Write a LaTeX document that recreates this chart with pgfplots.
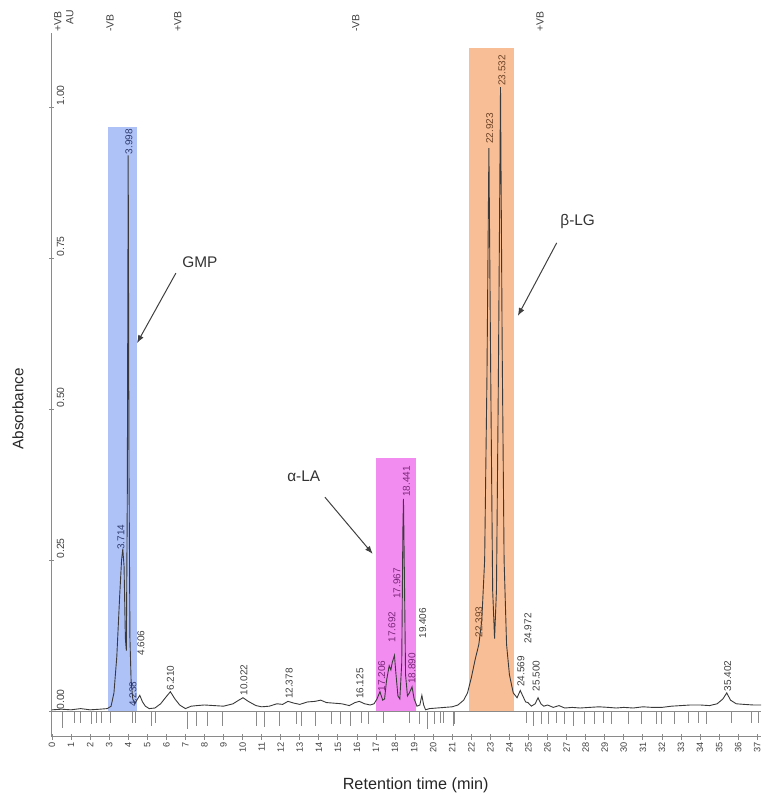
\documentclass[border=0pt]{standalone}
\usepackage{pgfplots}
\pgfplotsset{compat=1.18}
\usepackage{fontspec}
\setmainfont{Liberation Sans}
\usetikzlibrary{arrows.meta}
\definecolor{tracec}{HTML}{3A3A3A}
\definecolor{axisc}{HTML}{8A8A8A}
\definecolor{txtc}{HTML}{404040}
\definecolor{blueh}{HTML}{AFC2F7}
\definecolor{magh}{HTML}{F28CF0}
\definecolor{orah}{HTML}{F8BE96}
\definecolor{bluet}{HTML}{2E3C70}
\definecolor{magt}{HTML}{7A267A}
\definecolor{orat}{HTML}{6E4426}
\newcommand{\pkfont}{\fontsize{5}{6}\selectfont}
\newcommand{\pk}[4]{\node[rotate=90,anchor=west,inner sep=0.4pt,font=\pkfont,text=#4] at (axis cs:#1,#2) {#3};}
\begin{document}
\begin{tikzpicture}
\begin{axis}[
  scale only axis, width=354.5pt, height=352pt,
  xmin=0, xmax=37.2, ymin=-0.043, ymax=1.1225,
  axis x line*=bottom, axis y line*=left,
  axis line style={draw=axisc, line width=0.5pt, -},
  clip=false,
  xtick={0,1,...,37},
  ytick={0,0.25,0.5,0.75,1},
  yticklabels={0.00,0.25,0.50,0.75,1.00},
  tick style={draw=axisc, line width=0.4pt},
  major tick length=2.5pt,
  tick align=center,
  /pgf/number format/assume math mode=true,
  xticklabel style={rotate=90, anchor=east, inner sep=1pt, font=\fontsize{4.6}{5}\selectfont, text=txtc},
  yticklabel style={rotate=90, anchor=north west, inner sep=0.5pt, yshift=-3pt, font=\fontsize{5.2}{6}\selectfont, text=txtc},
  xlabel={Retention time (min)},
  ylabel={Absorbance},
  xlabel style={at={(axis description cs:0.513,0)}, anchor=center, yshift=-24pt, font=\fontsize{8.1}{9}\selectfont, text=black!85},
  ylabel style={at={(axis description cs:-0.048,0.466)}, anchor=center, font=\fontsize{7.6}{9}\selectfont, text=black!85},
]
% highlight regions
\addplot[draw=none, fill=blueh, forget plot] coordinates {(2.94,0.967) (4.46,0.967)} \closedcycle;
\addplot[draw=none, fill=magh, forget plot] coordinates {(16.99,0.419) (19.09,0.419)} \closedcycle;
\addplot[draw=none, fill=orah, forget plot] coordinates {(21.87,1.098) (24.23,1.098)} \closedcycle;
% integration baseline
\addplot[draw=axisc, line width=0.4pt, forget plot] coordinates {(0,0) (37.2,0)};
% event marks
\addplot[ycomb, draw=axisc, line width=0.4pt, forget plot] coordinates {
(0.56,-0.028) (1.2,-0.02) (1.47,-0.02) (2.08,-0.022) (2.34,-0.02) (2.57,-0.02) (3.09,-0.02)
(4.21,-0.02) (4.35,-0.02) (5.23,-0.025) (5.45,-0.02) (7.09,-0.03) (7.59,-0.025) (8.14,-0.025)
(8.95,-0.025) (10.7,-0.025) (11.17,-0.027) (11.92,-0.025) (12.83,-0.022) (13.09,-0.025)
(13.84,-0.025) (14.67,-0.022) (15.14,-0.022) (15.63,-0.025) (16.24,-0.02) (16.59,-0.022)
(17.37,-0.02) (18.74,-0.02) (19.26,-0.022) (19.7,-0.03) (20.08,-0.022) (20.4,-0.02) (21.08,-0.025)
(20.52,-0.02) (21.13,-0.022) (24.89,-0.02) (25.24,-0.025) (25.68,-0.022) (26.03,-0.022) (26.46,-0.02)
(26.9,-0.022) (27.34,-0.025) (27.95,-0.022) (28.48,-0.022) (28.91,-0.02) (29.35,-0.022) (30.22,-0.022)
(30.92,-0.022) (31.71,-0.022) (31.97,-0.022) (32.67,-0.022) (33.37,-0.02) (33.89,-0.02) (34.33,-0.022)
(35.64,-0.02) (36.69,-0.02) (37.04,-0.02)};
% chromatogram trace
\addplot[draw=tracec, line width=0.45pt, forget plot] coordinates {
(0.0,0.002) (0.5,0.003) (1.0,0.002) (1.5,0.004) (2.0,0.002) (2.5,0.003) (2.9,0.004)
(3.1,0.008) (3.25,0.03) (3.4,0.09) (3.55,0.19) (3.65,0.25) (3.714,0.268) (3.78,0.24)
(3.85,0.12) (3.9,0.10) (3.95,0.35) (3.998,0.92) (4.04,0.4) (4.09,0.12) (4.15,0.05)
(4.238,0.02) (4.35,0.012) (4.45,0.018) (4.606,0.026) (4.75,0.015) (4.9,0.008) (5.1,0.004)
(5.4,0.005) (5.7,0.012) (5.95,0.022) (6.21,0.032) (6.45,0.02) (6.7,0.01) (7.0,0.004)
(7.3,0.008) (7.6,0.009) (8.0,0.01) (8.5,0.009) (9.0,0.008) (9.5,0.012) (9.8,0.018)
(10.02,0.022) (10.3,0.016) (10.7,0.009) (11.0,0.007) (11.4,0.008) (11.8,0.012) (12.1,0.011)
(12.38,0.016) (12.7,0.013) (13.0,0.011) (13.4,0.015) (13.8,0.016) (14.1,0.018) (14.4,0.014)
(14.8,0.013) (15.2,0.012) (15.6,0.009) (15.9,0.014) (16.125,0.016) (16.4,0.012) (16.7,0.01)
(16.9,0.012) (17.05,0.02) (17.206,0.032) (17.35,0.018) (17.45,0.02) (17.55,0.05) (17.692,0.075)
(17.78,0.068) (17.85,0.08) (17.967,0.092) (18.05,0.06) (18.15,0.025) (18.25,0.02) (18.35,0.08)
(18.41,0.3) (18.441,0.351) (18.48,0.25) (18.55,0.06) (18.65,0.025) (18.75,0.03) (18.89,0.04)
(19.0,0.02) (19.15,0.008) (19.3,0.01) (19.406,0.026) (19.5,0.01) (19.6,0.002) (19.8,0.004)
(20.2,0.005) (20.6,0.006) (21.0,0.007) (21.3,0.01) (21.6,0.018) (21.8,0.03) (22.0,0.055)
(22.2,0.085) (22.393,0.11) (22.55,0.15) (22.7,0.25) (22.82,0.55) (22.923,0.932) (23.02,0.55)
(23.12,0.2) (23.22,0.12) (23.32,0.2) (23.42,0.55) (23.532,1.033) (23.62,0.6) (23.72,0.25)
(23.85,0.11) (24.0,0.06) (24.2,0.03) (24.4,0.022) (24.569,0.034) (24.7,0.025) (24.85,0.015)
(24.972,0.014) (25.15,0.008) (25.35,0.012) (25.5,0.022) (25.65,0.012) (25.8,0.008) (26.0,0.01)
(26.3,0.006) (26.6,0.009) (26.9,0.005) (27.3,0.006) (27.7,0.005) (28.2,0.006) (28.7,0.007)
(29.2,0.006) (29.6,0.005) (30.0,0.006) (30.5,0.005) (31.0,0.007) (31.5,0.006) (32.0,0.006)
(32.5,0.008) (33.0,0.009) (33.5,0.01) (34.0,0.01) (34.5,0.009) (34.9,0.012) (35.2,0.02)
(35.402,0.03) (35.6,0.018) (35.9,0.012) (36.3,0.011) (36.8,0.01) (37.2,0.01)};
% peak labels
\pk{3.62}{0.265}{3.714}{bluet}
\pk{4.04}{0.92}{3.998}{bluet}
\pk{4.25}{0.005}{4.238}{bluet}
\pk{4.67}{0.09}{4.606}{txtc}
\pk{6.22}{0.032}{6.210}{txtc}
\pk{10.07}{0.024}{10.022}{txtc}
\pk{12.44}{0.018}{12.378}{txtc}
\pk{16.15}{0.018}{16.125}{txtc}
\pk{17.3}{0.031}{17.206}{magt}
\pk{17.83}{0.112}{17.692}{magt}
\pk{18.1}{0.184}{17.967}{magt}
\pk{18.6}{0.353}{18.441}{magt}
\pk{18.88}{0.043}{18.890}{magt}
\pk{19.45}{0.118}{19.406}{txtc}
\pk{22.4}{0.12}{22.393}{orat}
\pk{22.97}{0.937}{22.923}{orat}
\pk{23.6}{1.033}{23.532}{orat}
\pk{24.6}{0.038}{24.569}{txtc}
\pk{24.97}{0.109}{24.972}{txtc}
\pk{25.4}{0.031}{25.500}{txtc}
\pk{35.45}{0.031}{35.402}{txtc}
% top event labels
\node[rotate=90,anchor=west,inner sep=0pt,font=\fontsize{5.2}{6}\selectfont,text=txtc] at (axis cs:0.3,1.124) {+VB};
\node[rotate=90,anchor=west,inner sep=0pt,font=\fontsize{5.2}{6}\selectfont,text=txtc] at (axis cs:0.94,1.136) {AU};
\node[rotate=90,anchor=west,inner sep=0pt,font=\fontsize{5.2}{6}\selectfont,text=txtc] at (axis cs:3.04,1.124) {-VB};
\node[rotate=90,anchor=west,inner sep=0pt,font=\fontsize{5.2}{6}\selectfont,text=txtc] at (axis cs:6.6,1.124) {+VB};
\node[rotate=90,anchor=west,inner sep=0pt,font=\fontsize{5.2}{6}\selectfont,text=txtc] at (axis cs:15.94,1.124) {-VB};
\node[rotate=90,anchor=west,inner sep=0pt,font=\fontsize{5.2}{6}\selectfont,text=txtc] at (axis cs:25.6,1.124) {+VB};
% annotations
\node[font=\fontsize{7.7}{9}\selectfont,text=black!80] at (axis cs:7.76,0.743) {GMP};
\draw[draw=black!75, line width=0.5pt, -{Latex[length=4pt,width=3pt]}] (axis cs:6.5,0.725) -- (axis cs:4.46,0.609);
\node[font=\fontsize{7.7}{9}\selectfont,text=black!80] at (axis cs:13.21,0.389) {α-LA};
\draw[draw=black!75, line width=0.5pt, -{Latex[length=4pt,width=3pt]}] (axis cs:14.32,0.354) -- (axis cs:16.83,0.26);
\node[font=\fontsize{7.7}{9}\selectfont,text=black!80] at (axis cs:27.58,0.81) {β-LG};
\draw[draw=black!75, line width=0.5pt, -{Latex[length=4pt,width=3pt]}] (axis cs:26.48,0.775) -- (axis cs:24.44,0.654);
\coordinate (BL) at (rel axis cs:0,0);
\coordinate (TR) at (rel axis cs:1,1);
\end{axis}
\pgfresetboundingbox
\path[use as bounding box] ([xshift=-26pt,yshift=-31.5pt]BL) rectangle ([yshift=16.5pt]TR);
\end{tikzpicture}
\end{document}
